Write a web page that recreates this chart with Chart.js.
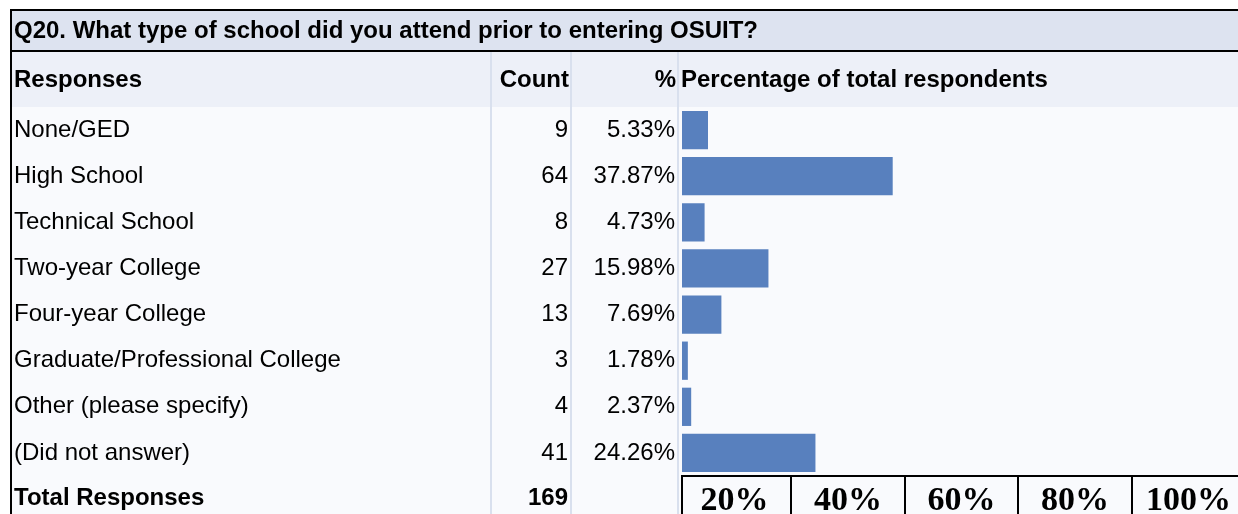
<!DOCTYPE html>
<html>
<head>
<meta charset="utf-8">
<script src="https://cdn.jsdelivr.net/npm/chart.js@4.4.1/dist/chart.umd.min.js"></script>
<style>
  html, body { margin: 0; padding: 0; background: #fff; }
  canvas { display: block; }
</style>
</head>
<body>
<canvas id="grafico" width="1238" height="514"></canvas>
<script>
const questionTitle = "Q20. What type of school did you attend prior to entering OSUIT?";
const headerLabels = ["Responses", "Count", "%", "Percentage of total respondents"];
const responses = [
  "None/GED",
  "High School",
  "Technical School",
  "Two-year College",
  "Four-year College",
  "Graduate/Professional College",
  "Other (please specify)",
  "(Did not answer)",
];
const counts = [9, 64, 8, 27, 13, 3, 4, 41];
const percents = [5.33, 37.87, 4.73, 15.98, 7.69, 1.78, 2.37, 24.26];
const totalLabel = "Total Responses";
const totalCount = 169;
const axisLabels = ["20%", "40%", "60%", "80%", "100%"];

const FONT = "'Liberation Sans', Arial, sans-serif";
const SERIF = "'Liberation Serif', 'Times New Roman', serif";
const barColor = "#5880be";

// x scale: first visible % just right of the divider, last cell runs off the page
const xMin = 0.75;
const xMax = 98.7;
const lineTicks = [xMin, 20, 40, 60, 80];
const labelTicks = axisLabels.map((_, i) => i * 20 + 10);

const tableFrame = {
  id: "tableFrame",
  beforeDraw: (chart) => {
    const { ctx, width, height } = chart;
    ctx.save();
    ctx.fillStyle = "#ffffff";
    ctx.fillRect(0, 0, width, height);
    // bands
    ctx.fillStyle = "#dde3f0";
    ctx.fillRect(12, 11, width - 12, 39);
    ctx.fillStyle = "#edf0f8";
    ctx.fillRect(12, 52, width - 12, 55);
    ctx.fillStyle = "#f9fafd";
    ctx.fillRect(12, 107, width - 12, height - 107);
    // black frame
    ctx.fillStyle = "#000";
    ctx.fillRect(10, 9, width - 10, 2);
    ctx.fillRect(10, 50, width - 10, 2);
    ctx.fillRect(10, 9, 2, height - 9);
    // column dividers
    ctx.fillStyle = "#d9e0ee";
    [490, 570, 677].forEach((x) => ctx.fillRect(x, 52, 2, height - 52));
    ctx.restore();
  },
  afterDraw: (chart) => {
    const { ctx } = chart;
    const yScale = chart.scales.y;
    ctx.save();
    ctx.fillStyle = "#000";
    ctx.textBaseline = "middle";

    ctx.font = "bold 24px " + FONT;
    ctx.textAlign = "left";
    ctx.fillText(questionTitle, 14, 31);

    ctx.fillText(headerLabels[0], 14, 80);
    ctx.fillText(headerLabels[3], 681, 80);
    ctx.textAlign = "right";
    ctx.fillText(headerLabels[1], 569, 80);
    ctx.fillText(headerLabels[2], 676, 80);

    ctx.font = "24px " + FONT;
    responses.forEach((r, i) => {
      const y = yScale.getPixelForValue(i);
      ctx.fillText(String(counts[i]), 568, y);
      ctx.fillText(percents[i].toFixed(2) + "%", 675, y);
    });

    const totalY = chart.chartArea.bottom + 22;
    ctx.font = "bold 24px " + FONT;
    ctx.textAlign = "left";
    ctx.fillText(totalLabel, 14, totalY);
    ctx.textAlign = "right";
    ctx.fillText(String(totalCount), 568, totalY);
    ctx.restore();
  },
};

const data = {
  labels: responses,
  datasets: [
    {
      label: "Percentage of total respondents",
      data: percents,
      backgroundColor: barColor,
      borderWidth: 0,
      barPercentage: 0.83,
      categoryPercentage: 1,
    },
  ],
};

const config = {
  type: "bar",
  data: data,
  options: {
    indexAxis: "y",
    responsive: false,
    animation: false,
    devicePixelRatio: 1,
    layout: { padding: { top: 107, left: 14, right: 0, bottom: 0 } },
    plugins: {
      legend: { display: false },
      tooltip: { enabled: false },
    },
    scales: {
      y: {
        type: "category",
        grid: { display: false },
        border: { display: false },
        afterFit: (scale) => {
          scale.width = 668;
        },
        ticks: {
          crossAlign: "far",
          padding: 0,
          color: "#000",
          font: { family: FONT, size: 24 },
        },
      },
      x: {
        type: "linear",
        min: xMin,
        max: xMax,
        afterBuildTicks: (scale) => {
          const vals = [...lineTicks, ...labelTicks].sort((a, b) => a - b);
          scale.ticks = vals.map((v) => ({ value: v }));
        },
        afterFit: (scale) => {
          scale.height = 38;
        },
        grid: {
          drawOnChartArea: false,
          drawTicks: true,
          tickLength: 40,
          lineWidth: 2,
          color: (ctx) =>
            ctx.tick && lineTicks.includes(ctx.tick.value) ? "#000" : "rgba(0,0,0,0)",
        },
        border: { display: true, color: "#000", width: 2 },
        ticks: {
          autoSkip: false,
          maxRotation: 0,
          padding: -35,
          color: "#000",
          font: { family: SERIF, size: 34, weight: "bold" },
          callback: (value) => {
            const i = labelTicks.indexOf(value);
            return i >= 0 ? axisLabels[i] : "";
          },
        },
      },
    },
  },
  plugins: [tableFrame],
};

new Chart(document.querySelector("#grafico"), config);
</script>
</body>
</html>
